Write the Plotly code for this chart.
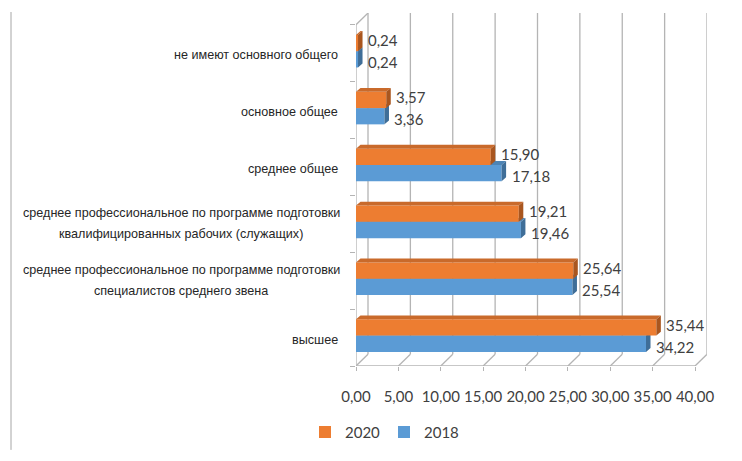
import plotly.graph_objects as go

# Education level categories (top to bottom), each split into display lines
categories = [
    ["не имеют основного общего"],
    ["основное общее"],
    ["среднее общее"],
    ["среднее профессиональное по программе подготовки", "квалифицированных рабочих (служащих)"],
    ["среднее профессиональное по программе подготовки", "специалистов среднего звена"],
    ["высшее"],
]
values_2020 = [0.24, 3.57, 15.90, 19.21, 25.64, 35.44]
values_2018 = [0.24, 3.36, 17.18, 19.46, 25.54, 34.22]
series_names = ["2020", "2018"]
x_ticks = [0, 5, 10, 15, 20, 25, 30, 35, 40]
x_tick_text = ["0,00", "5,00", "10,00", "15,00", "20,00", "25,00", "30,00", "35,00", "40,00"]

# Colours: front, top and side faces of the pseudo-3D bars
ORANGE = ("#ED7D31", "#C96A2B", "#A9561F")
BLUE = ("#5B9BD5", "#4D84B5", "#3F6E98")
GRID = "#B4B4B4"
TEXT = "#404040"
NUM_FONT = "Lato, sans-serif"
CAT_FONT = "Liberation Sans, Arial, sans-serif"

# Plot geometry (pixels)
W, H = 742, 461
M_L, M_R, M_T, M_B = 356, 35, 13, 86
X_MAX = 40
N_CAT = len(categories)
WALL_PX = 12                                  # depth of the back wall, px
PX_X = 8.475                                  # pixels per x unit
PX_Y = (H - M_T - M_B - WALL_PX) / N_CAT      # pixels per category band
WALL_DX = WALL_PX / PX_X
WALL_DY = WALL_PX / PX_Y
BAR_DX = 4.5 / PX_X     # bar depth (x)
BAR_DY = 4.0 / PX_Y     # bar depth (y)
BAR_W = 16.7 / PX_Y     # thickness of one bar
BAR_SHIFT = -2.0 / PX_Y  # line between the two bars of a pair
LABEL_GAP = 16          # px between category labels and the axis
WRAP_CENTER = 175       # px from the axis to the centre of two-line labels

pos = list(range(N_CAT))
x_range = [0, X_MAX + WALL_DX]
y_range = [N_CAT - 0.5, -0.5 - WALL_DY]   # reversed: first category on top

fig = go.Figure()


def face_trace(points_list, color, xa, ya):
    xs, ys = [], []
    for pts in points_list:
        for (px, py) in pts:
            xs.append(px)
            ys.append(py)
        xs.append(pts[0][0])
        ys.append(pts[0][1])
        xs.append(None)
        ys.append(None)
    return go.Scatter(x=xs, y=ys, mode="lines", fill="toself", fillcolor=color,
                      line=dict(width=0, color=color), hoverinfo="skip",
                      showlegend=False, xaxis=xa, yaxis=ya)


def bar_faces(values, y_top, y_bot):
    tops, sides = [], []
    for v, p in zip(values, pos):
        t, b = p + y_top, p + y_bot
        tops.append([(0, t), (v, t), (v + BAR_DX, t - BAR_DY), (BAR_DX, t - BAR_DY)])
        sides.append([(v, t), (v + BAR_DX, t - BAR_DY), (v + BAR_DX, b - BAR_DY), (v, b)])
    return tops, sides


# 2020 series sits above 2018 and is drawn on an overlaying subplot so it covers it
fig.add_trace(go.Bar(
    name=series_names[0], x=values_2020, y=pos, orientation="h",
    width=BAR_W, offset=BAR_SHIFT - BAR_W, marker=dict(color=ORANGE[0], line=dict(width=0)),
    xaxis="x2", yaxis="y2", hoverinfo="x",
))
fig.add_trace(go.Bar(
    name=series_names[1], x=values_2018, y=pos, orientation="h",
    width=BAR_W, offset=BAR_SHIFT, marker=dict(color=BLUE[0], line=dict(width=0)),
    xaxis="x", yaxis="y", hoverinfo="x",
))

b_tops, b_sides = bar_faces(values_2018, BAR_SHIFT, BAR_SHIFT + BAR_W)
fig.add_trace(face_trace(b_tops, BLUE[1], "x", "y"))
fig.add_trace(face_trace(b_sides, BLUE[2], "x", "y"))

o_tops, o_sides = bar_faces(values_2020, BAR_SHIFT - BAR_W, BAR_SHIFT)
fig.add_trace(face_trace(o_tops, ORANGE[1], "x2", "y2"))
fig.add_trace(face_trace(o_sides, ORANGE[2], "x2", "y2"))

shapes = []
line_style = dict(color=GRID, width=1.3)
y_front_bottom = N_CAT - 0.5
y_front_top = -0.5
for v in x_ticks:
    # back-wall gridline
    shapes.append(dict(type="line", xref="x", yref="y", layer="below",
                       x0=v + WALL_DX, x1=v + WALL_DX,
                       y0=y_front_bottom - WALL_DY, y1=y_front_top - WALL_DY, line=line_style))
    # floor diagonal
    shapes.append(dict(type="line", xref="x", yref="y", layer="below",
                       x0=v, x1=v + WALL_DX, y0=y_front_bottom, y1=y_front_bottom - WALL_DY,
                       line=line_style))
# front edges of the box
shapes.append(dict(type="line", xref="x", yref="y", layer="below",
                   x0=0, x1=X_MAX, y0=y_front_bottom, y1=y_front_bottom, line=line_style))
shapes.append(dict(type="line", xref="x", yref="y", layer="below",
                   x0=0, x1=0, y0=y_front_bottom, y1=y_front_top, line=line_style))
shapes.append(dict(type="line", xref="x", yref="y", layer="below",
                   x0=0, x1=WALL_DX, y0=y_front_top, y1=y_front_top - WALL_DY, line=line_style))
# frame line on the left edge of the page
plot_w = W - M_L - M_R
plot_h = H - M_T - M_B
shapes.append(dict(type="line", xref="paper", yref="paper",
                   x0=(11 - M_L) / plot_w, x1=(11 - M_L) / plot_w,
                   y0=(H - M_B - 12) / plot_h, y1=(H - M_B - H) / plot_h,
                   line=dict(color="#A6A6A6", width=1)))

annotations = []
# category labels: single lines right-aligned to the axis, wrapped ones centred
for lines, p in zip(categories, pos):
    n = len(lines)
    for k, txt in enumerate(lines):
        if n == 1:
            anchor, xsh, ysh = "right", -LABEL_GAP, -2
        else:
            anchor, xsh, ysh = "center", -WRAP_CENTER, ((n - 1) / 2 - k) * 21
        annotations.append(dict(
            x=0, y=p, xref="x", yref="y", text=txt, showarrow=False,
            xanchor=anchor, yanchor="middle", xshift=xsh, yshift=ysh,
            font=dict(family=CAT_FONT, size=12.6, color="#262626"),
        ))


# value labels: 2020 sits just above the split line, 2018 just below it
def fmt(v):
    return f"{v:.2f}".replace(".", ",")


for vals, anchor, ysh in ((values_2020, "bottom", 1), (values_2018, "top", -1)):
    for v, p in zip(vals, pos):
        annotations.append(dict(
            x=v, y=p + BAR_SHIFT, xref="x", yref="y", text=fmt(v), showarrow=False,
            xanchor="left", yanchor=anchor, xshift=9, yshift=ysh, borderpad=0,
            font=dict(family=NUM_FONT, size=15, color=TEXT),
        ))

fig.update_layout(
    width=W, height=H,
    margin=dict(l=M_L, r=M_R, t=M_T, b=M_B, pad=0),
    paper_bgcolor="white", plot_bgcolor="white",
    barmode="overlay",
    showlegend=True,
    legend=dict(orientation="h", x=(305 - M_L) / plot_w, y=(H - M_B - 443) / plot_h,
                xanchor="left", yanchor="middle", itemwidth=30,
                entrywidth=34, entrywidthmode="pixels",
                font=dict(family=NUM_FONT, size=15, color=TEXT),
                bgcolor="rgba(0,0,0,0)"),
    xaxis=dict(range=x_range, tickvals=x_ticks, ticktext=x_tick_text, showgrid=False,
               zeroline=False, showline=False, ticks="outside", ticklen=4, tickcolor=GRID,
               tickwidth=1.3, ticklabelstandoff=13, automargin=False,
               tickfont=dict(family=NUM_FONT, size=15, color=TEXT), fixedrange=True),
    yaxis=dict(range=y_range, tickvals=[p - 0.5 for p in pos] + [N_CAT - 0.5],
               showticklabels=False, showgrid=False, zeroline=False, showline=False,
               ticks="outside", ticklen=5, tickcolor=GRID, tickwidth=1.3,
               automargin=False, fixedrange=True),
    xaxis2=dict(range=x_range, overlaying="x", visible=False, fixedrange=True),
    yaxis2=dict(range=y_range, overlaying="y", visible=False, fixedrange=True),
    shapes=shapes,
    annotations=annotations,
)

fig.write_html("out.html")
